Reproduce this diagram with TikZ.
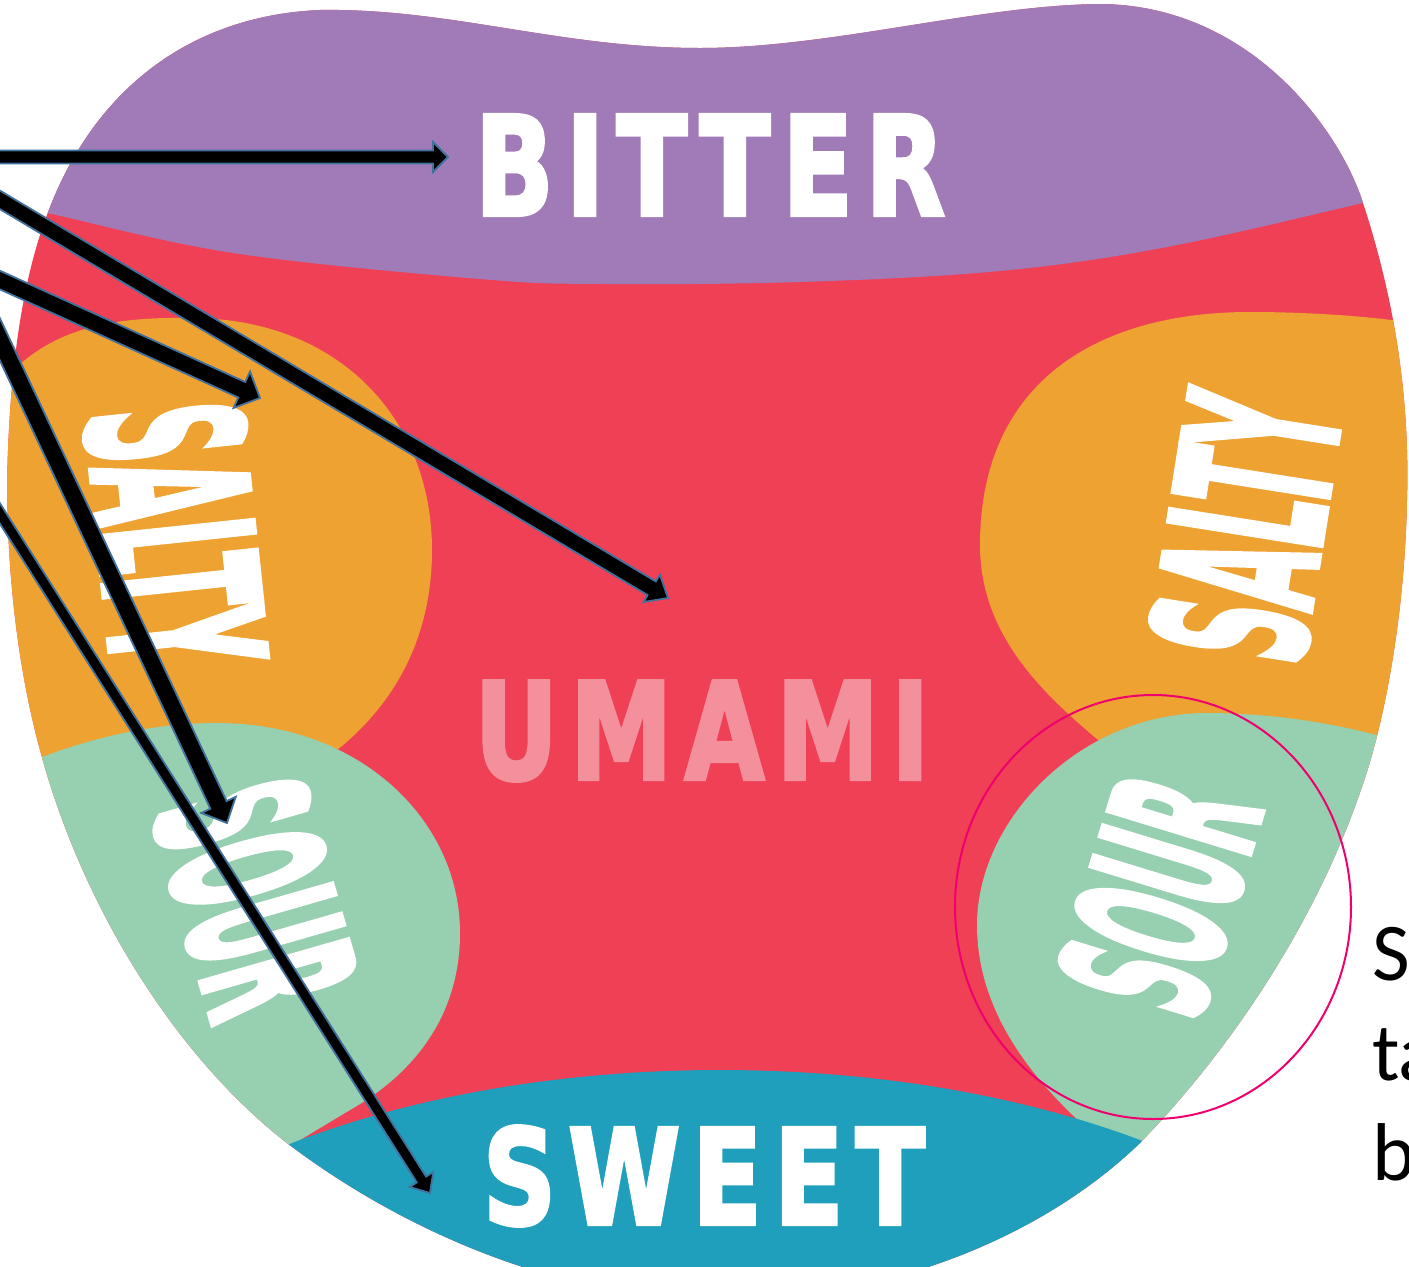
\documentclass[tikz,border=0pt]{standalone}
\usepackage{fontspec}
\usepackage{graphicx}
\setmainfont{Carlito}
\newfontfamily\tastefont{DejaVu Sans}[FakeBold=3]
\usetikzlibrary{calc}
\definecolor{cpurple}{RGB}{160,123,183}
\definecolor{cred}{RGB}{239,64,86}
\definecolor{corange}{RGB}{238,162,50}
\definecolor{cgreen}{RGB}{150,208,176}
\definecolor{cblue}{RGB}{32,159,189}
\definecolor{cumami}{RGB}{243,144,156}
\definecolor{cpink}{RGB}{240,0,110}
\definecolor{arrowblue}{RGB}{65,113,156}
\newcommand\tsp{\hspace{0.12em}}
% #1 start, #2 tip, #3 shaft half width, #4 head half width, #5 head length
\newcommand\fatarrow[5]{%
  \path ($(#2)!#5!(#1)$) coordinate (hb);
  \filldraw[tarrow] ($(#1)!#3!90:(#2)$) -- ($(hb)!#3!-90:(#1)$) -- ($(hb)!#4!-90:(#1)$) -- (#2)
     -- ($(hb)!#4!90:(#1)$) -- ($(hb)!#3!90:(#1)$) -- ($(#1)!#3!-90:(#2)$) -- cycle;}
\begin{document}
\begin{tikzpicture}[x=1pt,y=-1pt,
  tarrow/.style={fill=black, draw=arrowblue, line width=1.8pt, line join=miter},
  lbl/.style={inner sep=0pt, text=white},
  side/.style={inner sep=0pt, anchor=base west, text=black, font=\fontsize{82}{100}\selectfont}]
\useasboundingbox (0,0) rectangle (1409,1267);
\def\tongue{(50,207) .. controls (100,80) and (200,15) .. (320,10)
 .. controls (450,8) and (560,48) .. (700,48)
 .. controls (830,48) and (980,5) .. (1100,4)
 .. controls (1250,5) and (1340,130) .. (1363,203)
 .. controls (1395,300) and (1410,400) .. (1407,500)
 .. controls (1405,600) and (1390,690) .. (1372,755)
 .. controls (1330,900) and (1240,1040) .. (1140,1143)
 .. controls (1050,1230) and (900,1300) .. (720,1300)
 .. controls (560,1300) and (400,1230) .. (283,1140)
 .. controls (170,1050) and (80,900) .. (40,750)
 .. controls (10,640) and (5,520) .. (8,450)
 .. controls (12,350) and (25,270) .. (50,207) -- cycle}
\begin{scope}
\clip \tongue;
\fill[cred] (-50,-50) rectangle (1460,1320);
\fill[cpurple] (-30,-30) -- (1440,-30) -- (1440,185) -- plot[smooth, tension=0.6] coordinates {
 (1440,185) (1363,203) (1167,247) (1000,271) (800,282) (600,284) (480,279) (233,253) (47,213) (-30,198)} -- cycle;
% left orange
\fill[corange] (432,550) .. controls (432,420) and (340,318) .. (190,318)
  .. controls (80,316) and (10,340) .. (-40,450) -- (-40,800) -- (250,800)
  .. controls (350,760) and (432,680) .. (432,550) -- cycle;
% right orange
\fill[corange] (1250,312) .. controls (1100,312) and (980,380) .. (980,545)
  .. controls (980,640) and (1050,700) .. (1110,750) -- (1450,800) -- (1450,330)
  .. controls (1400,318) and (1320,312) .. (1250,312) -- cycle;
% left green
\fill[cgreen] (-50,800) .. controls (40,750) and (130,723) .. (217,723)
  .. controls (360,723) and (460,820) .. (460,933)
  .. controls (460,1010) and (420,1070) .. (350,1110) -- (200,1200) -- (-50,1100) -- cycle;
% right green
\fill[cgreen] (1207,713) .. controls (1080,713) and (977,820) .. (977,925)
  .. controls (977,1010) and (1030,1080) .. (1100,1140) -- (1300,1250) -- (1450,760)
  .. controls (1380,730) and (1290,713) .. (1207,713) -- cycle;
\fill[cblue] (720,1420) ellipse [x radius=700, y radius=350];
\end{scope}

% labels
\node[lbl] (bitter) at (710,165) {\resizebox{470pt}{100pt}{\tastefont\bfseries B\tsp I\tsp T\tsp T\tsp E\tsp R}};
\node[lbl, text=cumami] (umami) at (702,731) {\resizebox{455pt}{98pt}{\tastefont\bfseries U\tsp M\tsp A\tsp M\tsp I}};
\node[lbl] (sweet) at (704,1176) {\resizebox{442pt}{98pt}{\tastefont\bfseries S\tsp W\tsp E\tsp E\tsp T}};
\node[lbl, rotate=-84] (saltyl) at (176,535) {\resizebox{262pt}{158pt}{\tastefont\bfseries SALTY}};
\node[lbl, rotate=-74] (sourl) at (256,898) {\resizebox{225pt}{155pt}{\tastefont\bfseries SOUR}};
\node[lbl, rotate=81] (saltyr) at (1246,527) {\resizebox{262pt}{156pt}{\tastefont\bfseries SALTY}};
\node[lbl, rotate=73] (sourr) at (1160,895) {\resizebox{225pt}{150pt}{\tastefont\bfseries SOUR}};

% arrows
\coordinate (bS) at (-20,157);  \coordinate (bT) at (448,157);
\coordinate (uS) at (-20,188);  \coordinate (uT) at (668,598);
\coordinate (lS) at (-20,271);  \coordinate (lT) at (260,398);
\coordinate (oS) at (-20,297);  \coordinate (oT) at (227,823);
\coordinate (wS) at (-20,482);  \coordinate (wT) at (430,1193);
\fatarrow{bS}{bT}{6.5pt}{15pt}{15pt}
\fatarrow{uS}{uT}{8pt}{16pt}{19pt}
\fatarrow{lS}{lT}{8.5pt}{20pt}{20pt}
\fatarrow{oS}{oT}{9pt}{19pt}{20pt}
\fatarrow{wS}{wT}{5.5pt}{14pt}{16pt}

% highlight ellipse
\draw[cpink, line width=2pt] (1153,907) ellipse [x radius=198, y radius=212];

% side text
\node[side] (t1) at (1372,980) {S};
\node[side] (t2) at (1372,1080) {ta};
\node[side] (t3) at (1372,1180) {b};
\end{tikzpicture}
\end{document}
